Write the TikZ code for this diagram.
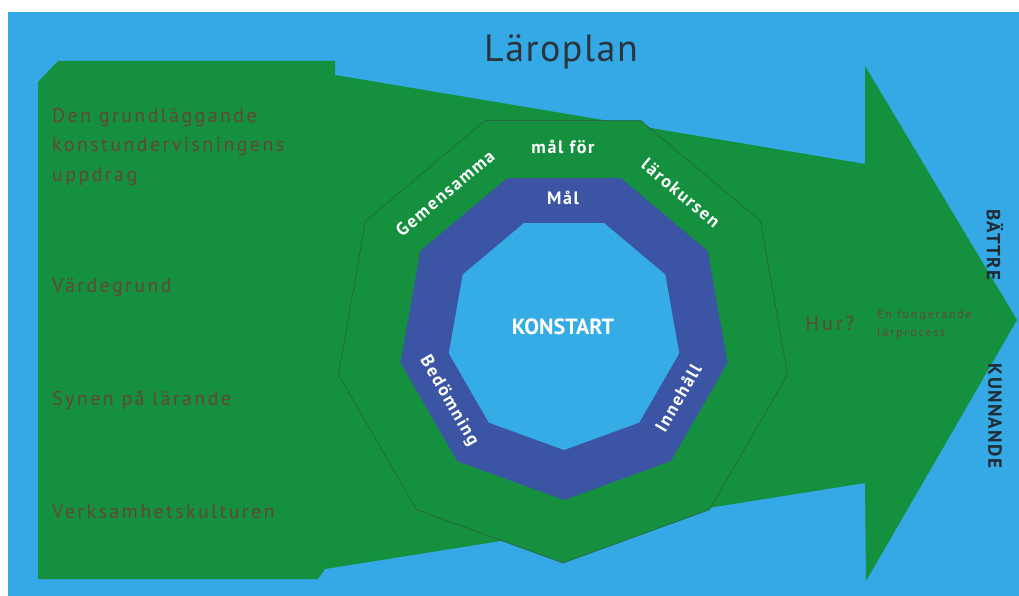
\documentclass[tikz,border=0pt]{standalone}
\usepackage{fontspec}
\setmainfont{PT Sans}
\usetikzlibrary{shapes.geometric}
\definecolor{bgblue}{HTML}{34A9E5}
\definecolor{argreen}{HTML}{14903E}
\definecolor{ringblue}{HTML}{3B54A4}
\definecolor{innerblue}{HTML}{36ACE6}
\definecolor{polyline}{HTML}{2C5A3A}
\definecolor{dimtext}{HTML}{634636}
\definecolor{darktext}{HTML}{1F2B33}
\definecolor{titletext}{HTML}{2A343C}
\begin{document}
\begin{tikzpicture}[x=1pt,y=-1pt,
  poly/.style={regular polygon, regular polygon sides=9, shape border rotate=180, inner sep=0pt, outer sep=0pt, minimum size=#1},
  wl/.style={text=white, font=\bfseries\fontsize{18}{20}\selectfont\addfontfeature{LetterSpace=9}, inner sep=0pt},
  dim/.style={text=dimtext, font=\fontsize{20}{29.5}\selectfont\addfontfeature{LetterSpace=12}, inner sep=0pt, anchor=west, align=left},
  small/.style={text=dimtext, font=\fontsize{12}{18}\selectfont\addfontfeature{LetterSpace=15}, inner sep=0pt, anchor=west, align=left},
  side/.style={text=darktext, font=\bfseries\fontsize{19}{20}\selectfont\addfontfeature{LetterSpace=7}, inner sep=0pt, rotate=-90}
]
\useasboundingbox (0,0) rectangle (1019,596);
\fill[white] (0,0) rectangle (1019,596);
\fill[bgblue] (8,12) rectangle (1019,596);
% big arrow
\fill[argreen] (38,82) -- (58,61) -- (335,61) -- (335,75) -- (865,164) -- (865,66)
  -- (1017,320) -- (866,581) -- (865,483) -- (325,569) -- (318,579) -- (38,579) -- cycle;
% nonagons
\node[poly=456, fill=argreen, draw=polyline, line width=0.5pt] (outer) at (563,335) {};
\node[poly=332, fill=ringblue] (middle) at (564,334) {};
\node[poly=234, fill=innerblue] (inner) at (564,333) {};
% title
\node[font=\fontsize{38}{40}\selectfont\addfontfeature{LetterSpace=4}, text=titletext, inner sep=0pt, anchor=base] (title) at (561,62) {Läroplan};
% ring labels
\node[wl, rotate=40] (gem) at (445,193) {Gemensamma};
\node[wl] (malfor) at (563,147) {mål för};
\node[wl, rotate=-40] (laro) at (681,193) {lärokursen};
\node[wl] (mal) at (563,198) {Mål};
\node[wl, font=\bfseries\fontsize{22}{24}\selectfont] (konst) at (563,327) {KONSTART};
\node[wl, rotate=-60] (bed) at (449,401) {Bedömning};
\node[wl, rotate=60] (inn) at (678,398) {Innehåll};
% left texts
\node[dim] (uppdrag) at (52,147) {Den grundläggande\\konstundervisningens\\uppdrag};
\node[dim] (varde) at (52,288) {Värdegrund};
\node[dim] (synen) at (52,400) {Synen på lärande};
\node[dim] (verks) at (52,512) {Verksamhetskulturen};
% right texts
\node[dim, anchor=center, font=\fontsize{20}{24}\selectfont\addfontfeature{LetterSpace=15}] (hur) at (830,323) {Hur?};
\node[small] (proc) at (877,324) {En fungerande\\lärprocess};
\node[side] (battre) at (995,245) {BÄTTRE};
\node[side] (kunn) at (995,416) {KUNNANDE};
\end{tikzpicture}
\end{document}
